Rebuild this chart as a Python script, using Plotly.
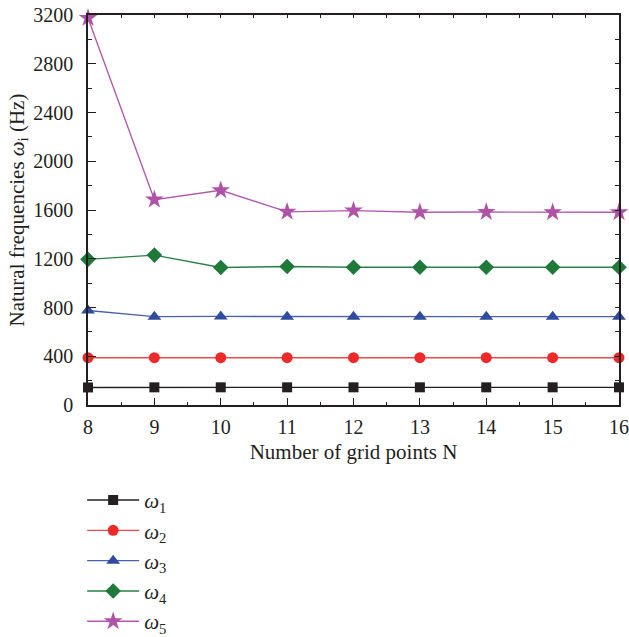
import plotly.graph_objects as go

N = [8, 9, 10, 11, 12, 13, 14, 15, 16]
w1 = [144, 145, 145, 145, 145, 145, 145, 145, 145]
w2 = [388, 388, 388, 388, 388, 388, 388, 388, 388]
w3 = [775, 725, 727, 725, 725, 725, 725, 725, 725]
w4 = [1195, 1230, 1128, 1137, 1130, 1130, 1130, 1130, 1130]
w5 = [3175, 1685, 1762, 1585, 1595, 1582, 1583, 1581, 1581]
y_ticks = [0, 400, 800, 1200, 1600, 2000, 2400, 2800, 3200]

names = ["<i>ω</i><sub>1</sub>", "<i>ω</i><sub>2</sub>", "<i>ω</i><sub>3</sub>",
         "<i>ω</i><sub>4</sub>", "<i>ω</i><sub>5</sub>"]
series = [w1, w2, w3, w4, w5]
line_colors = ["#231f20", "#f04848", "#4a62ad", "#2a8045", "#b45aae"]
marker_colors = ["#231f20", "#ec2a2a", "#2f4c9e", "#1f7a3a", "#b052a8"]
symbols = ["square", "circle", "triangle-up", "diamond", "star"]
sizes = [10, 11, 12, 12, 14]

fig = go.Figure()
for name, ys, lc, mc, sym, sz in zip(names, series, line_colors, marker_colors, symbols, sizes):
    fig.add_trace(go.Scatter(
        x=N, y=ys, name=name, mode="lines+markers",
        line=dict(color=lc, width=1.4),
        marker=dict(symbol=sym, size=sz, color=mc, line=dict(width=0)),
        cliponaxis=False,
    ))

# helper trace so that the top/right frame axes (short mirrored ticks) are drawn
fig.add_trace(go.Scatter(x=N, y=w1, xaxis="x2", yaxis="y2", mode="none",
                         showlegend=False, hoverinfo="skip"))

font_family = "Liberation Serif, Times New Roman, serif"
ink = "#231f20"
fig.update_layout(
    width=629, height=637,
    margin=dict(l=88, r=10, t=15, b=232, autoexpand=False),
    paper_bgcolor="white", plot_bgcolor="white",
    font=dict(family=font_family, size=20, color=ink),
    showlegend=True,
    legend=dict(
        x=-0.011, y=-0.192, xanchor="left", yanchor="top",
        font=dict(size=21, family=font_family),
        bgcolor="rgba(0,0,0,0)", itemwidth=52,
    ),
    xaxis=dict(
        range=[8, 16], tickvals=N, ticktext=[str(n) for n in N],
        showline=True, linecolor=ink, linewidth=1.5, mirror=True,
        ticks="inside", ticklen=7, tickcolor=ink, tickwidth=1.2,
        minor=dict(ticks="inside", ticklen=3, dtick=0.5, tickcolor=ink, tickwidth=1),
        showgrid=False, zeroline=False,
        title=dict(text="Number of grid points N", font=dict(size=21), standoff=8),
        tickfont=dict(size=20), ticklabelstandoff=3,
    ),
    yaxis=dict(
        range=[0, 3200], tickvals=y_ticks,
        showline=True, linecolor=ink, linewidth=1.5, mirror=True,
        ticks="inside", ticklen=8, tickcolor=ink, tickwidth=1.2,
        minor=dict(ticks="inside", ticklen=4, dtick=200, tickcolor=ink, tickwidth=1),
        showgrid=False, zeroline=False,
        title=dict(text="Natural frequencies <i>ω</i><sub>i</sub> (Hz)", font=dict(size=21), standoff=3),
        tickfont=dict(size=20), ticklabelstandoff=9,
    ),
    xaxis2=dict(
        overlaying="x", side="top", matches="x", range=[8, 16],
        dtick=0.5, tick0=8, ticks="inside", ticklen=3, tickcolor=ink, tickwidth=1,
        showticklabels=False, showgrid=False, zeroline=False, showline=False,
    ),
    yaxis2=dict(
        overlaying="y", side="right", matches="y", range=[0, 3200],
        dtick=200, tick0=0, ticks="inside", ticklen=4, tickcolor=ink, tickwidth=1,
        showticklabels=False, showgrid=False, zeroline=False, showline=False,
    ),
)

fig.write_html("out.html", config={"displayModeBar": False},
               post_script="document.body.style.margin='0';")
